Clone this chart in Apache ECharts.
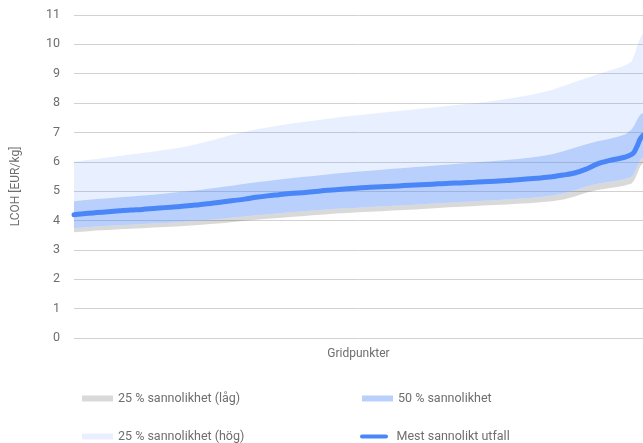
<!DOCTYPE html>
<html>
<head>
<meta charset="utf-8">
<script src="https://cdn.jsdelivr.net/npm/echarts@6/dist/echarts.min.js"></script>
<style>html,body{margin:0;padding:0;background:#fff}#c{width:643px;height:443px}</style>
</head>
<body>
<div id="c"></div>
<script>
// rank of grid point (sorted by most likely outcome), 0..1000
const ranks = [0,20,40,60,80,100,120,140,160,180,200,220,240,260,280,300,320,340,360,380,400,420,440,460,480,500,520,540,560,580,600,620,640,660,680,700,720,740,760,780,800,820,840,860,880,900,920,940,960,970,980,985,990,995,1000];
const minVals = [3.60,3.63,3.66,3.68,3.70,3.72,3.74,3.76,3.78,3.80,3.82,3.85,3.88,3.91,3.95,3.99,4.03,4.06,4.09,4.12,4.15,4.18,4.21,4.24,4.26,4.28,4.30,4.32,4.34,4.36,4.38,4.40,4.43,4.45,4.47,4.49,4.51,4.53,4.55,4.57,4.59,4.62,4.66,4.72,4.82,4.95,5.04,5.10,5.16,5.20,5.26,5.38,5.60,5.84,5.96];
const p25Vals = [3.74,3.77,3.80,3.82,3.84,3.86,3.88,3.90,3.92,3.94,3.97,4.00,4.03,4.06,4.10,4.14,4.18,4.21,4.25,4.28,4.31,4.34,4.37,4.40,4.42,4.44,4.46,4.48,4.50,4.52,4.54,4.56,4.59,4.61,4.63,4.65,4.67,4.69,4.72,4.74,4.77,4.80,4.85,4.92,5.02,5.16,5.25,5.31,5.37,5.42,5.48,5.62,5.85,6.06,6.16];
const medianVals = [4.20,4.24,4.27,4.30,4.33,4.36,4.38,4.41,4.44,4.47,4.50,4.54,4.58,4.63,4.68,4.73,4.79,4.84,4.88,4.92,4.95,4.98,5.02,5.05,5.08,5.11,5.13,5.15,5.17,5.19,5.21,5.23,5.25,5.27,5.28,5.30,5.32,5.34,5.36,5.39,5.42,5.45,5.49,5.55,5.62,5.75,5.93,6.04,6.12,6.17,6.25,6.35,6.55,6.78,6.90];
const p75Vals = [4.66,4.70,4.73,4.76,4.79,4.82,4.85,4.88,4.92,4.96,5.00,5.04,5.09,5.14,5.19,5.25,5.30,5.35,5.40,5.44,5.48,5.52,5.56,5.60,5.64,5.67,5.70,5.73,5.76,5.79,5.82,5.85,5.88,5.91,5.94,5.97,6.00,6.03,6.06,6.10,6.14,6.19,6.26,6.36,6.48,6.60,6.70,6.78,6.88,6.95,7.10,7.25,7.45,7.60,7.66];
const maxVals = [6.00,6.05,6.10,6.15,6.20,6.25,6.30,6.35,6.40,6.46,6.53,6.62,6.72,6.83,6.93,7.02,7.10,7.17,7.24,7.30,7.35,7.40,7.45,7.50,7.55,7.59,7.63,7.67,7.71,7.75,7.79,7.83,7.87,7.91,7.95,7.99,8.03,8.08,8.14,8.20,8.27,8.35,8.45,8.58,8.72,8.85,8.98,9.10,9.22,9.30,9.42,9.65,9.95,10.20,10.40];
const yTicks = [0,1,2,3,4,5,6,7,8,9,10,11];
const names = ['25 % sannolikhet (låg)','50 % sannolikhet','25 % sannolikhet (hög)','Mest sannolikt utfall'];
const gridPoints = Array.from({length:1001}, (_, i) => String(i));

const pair = (arr) => ranks.map((r,i)=>[r, +arr[i].toFixed(3)]);
const diff = (a,b) => ranks.map((r,i)=>[r, +(a[i]-b[i]).toFixed(3)]);

const font = 'Roboto, "DejaVu Sans", sans-serif';
const txt = '#6e6e6e';
const cLow = 'rgba(0,0,0,0.15)';
const cMid = 'rgba(74,134,248,0.39)';
const cHigh = 'rgba(74,134,248,0.13)';
const cLine = '#4a86f8';
const lineIcon = 'path://M2.5,0 L32.5,0 A2.5,2.5 0 0 1 32.5,5 L2.5,5 A2.5,2.5 0 0 1 2.5,0 Z';
const lg = (name, left, top, icon, w) => ({
  left, top, orient:'horizontal', itemWidth:w, itemHeight: icon===lineIcon?4:6, itemGap:0, padding:0,
  textStyle:{color:txt, fontFamily:font, fontSize:12.5},
  data:[{name, icon}]
});
const chart = echarts.init(document.getElementById('c'));
chart.setOption({
  animation:false,
  grid:{left:74, right:0, top:15, bottom:105},
  legend:[
    lg(names[0], 82, 392, 'rect', 31),
    lg(names[2], 82, 430, 'rect', 31),
    lg(names[1], 362, 392, 'rect', 31),
    lg(names[3], 360, 430, lineIcon, 35)
  ],
  xAxis:{type:'category', data:gridPoints, boundaryGap:false, name:'Gridpunkter', nameLocation:'middle', nameGap:10,
    nameTextStyle:{color:txt, fontFamily:font, fontSize:12},
    axisLine:{show:false}, axisTick:{show:false}, axisLabel:{show:false}, splitLine:{show:false}},
  yAxis:{type:'value', min:0, max:11, interval:1,
    name:'LCOH [EUR/kg]', nameLocation:'middle', nameGap:52, nameRotate:90,
    nameTextStyle:{color:txt, fontFamily:font, fontSize:12, padding:[0,20,0,0]},
    axisLine:{show:false}, axisTick:{show:false},
    axisLabel:{color:txt, fontFamily:font, fontSize:12.5, margin:14,
      formatter:(v)=> yTicks.includes(v) ? String(v) : ''},
    splitLine:{lineStyle:{color:'#d2d2d2', width:1}}},
  series:[
    {name:'base', type:'line', stack:'b', data:pair(minVals), symbol:'none', silent:true,
     lineStyle:{width:0, opacity:0}, legendHoverLink:false},
    {name:names[0], type:'line', stack:'b', data:diff(p25Vals,minVals), symbol:'none',
     itemStyle:{color:cLow}, lineStyle:{width:0, opacity:0}, areaStyle:{color:cLow, opacity:1}},
    {name:names[1], type:'line', stack:'b', data:diff(p75Vals,p25Vals), symbol:'none',
     itemStyle:{color:cMid}, lineStyle:{width:0, opacity:0}, areaStyle:{color:cMid, opacity:1}},
    {name:names[2], type:'line', stack:'b', data:diff(maxVals,p75Vals), symbol:'none',
     itemStyle:{color:cHigh}, lineStyle:{width:0, opacity:0}, areaStyle:{color:cHigh, opacity:1}},
    {name:names[3], type:'line', data:pair(medianVals), symbol:'none', smooth:0.3, z:5,
     itemStyle:{color:cLine}, lineStyle:{color:cLine, width:5, cap:'round'}}
  ]
});
</script>
</body>
</html>
